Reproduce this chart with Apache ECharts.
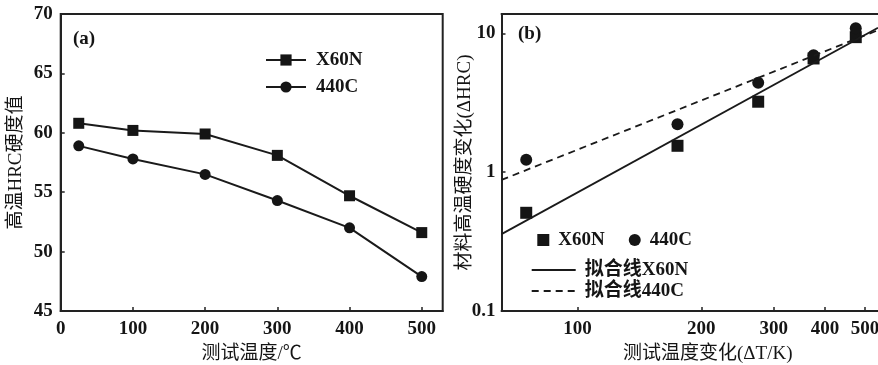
<!DOCTYPE html>
<html>
<head>
<meta charset="utf-8">
<script src="https://cdn.jsdelivr.net/npm/echarts@6/dist/echarts.min.js"></script>
<style>html,body{margin:0;padding:0;background:#fff}#c{width:878px;height:365px}</style>
</head>
<body>
<div id="c"></div>
<script>
// ---- Panel (a) data ----
const tempC = [25, 100, 200, 300, 400, 500];
const hrcX60N = [60.8, 60.2, 59.9, 58.1, 54.7, 51.6];
const hrc440C = [58.9, 57.8, 56.5, 54.3, 52.0, 47.9];
const tempTicks = [0, 100, 200, 300, 400, 500];
const hrcTicks = [45, 50, 55, 60, 65, 70];

// ---- Panel (b) data ----
const deltaT = [75, 175, 275, 375, 475];
const dHrcX60N = [0.51, 1.55, 3.22, 6.6, 9.4];
const dHrc440C = [1.23, 2.22, 4.41, 6.95, 10.9];
const fitX = [65.3, 538];
const fitX60N = [0.358, 11.0];
const fit440C = [0.88, 10.55];
const dTTicks = [100, 200, 300, 400, 500];
const dHrcTicks = [0.1, 1, 10];

const pair = (xs, ys) => xs.map((x, i) => [x, ys[i]]);
const FONT = '"Liberation Serif", "Noto Sans CJK SC", serif';
const INK = '#151515';

const chart = echarts.init(document.getElementById('c'), null, {renderer: 'canvas'});
const lab = {fontFamily: FONT, fontSize: 19, fontWeight: 'bold', color: INK};
const nameStyle = {fontFamily: FONT, fontSize: 19, color: INK};
const axLine = {show: true, lineStyle: {color: '#222', width: 2}};
const legText = {fontFamily: FONT, fontSize: 19, fontWeight: 'bold', color: INK, lineHeight: 20};

chart.setOption({
  animation: false,
  backgroundColor: '#fff',
  title: [
    {text: '(a)', left: 73, top: 30, padding: 0, textStyle: {fontFamily: FONT, fontSize: 19, fontWeight: 'bold', color: INK}},
    {text: '(b)', left: 518, top: 25, padding: 0, textStyle: {fontFamily: FONT, fontSize: 19, fontWeight: 'bold', color: INK}}
  ],
  grid: [
    {left: 60.7, top: 14, right: 435.3, bottom: 54, show: true, borderColor: '#222', borderWidth: 2,
     containLabel: false, outerBoundsMode: 'none'},
    {left: 501.5, top: 14, right: 0, bottom: 54, show: false,
     containLabel: false, outerBoundsMode: 'none'}
  ],
  legend: [
    {
      left: 265, top: 50, padding: 0, orient: 'vertical', itemWidth: 40, itemHeight: 14, itemGap: 7,
      data: ['X60N', '440C'],
      textStyle: Object.assign({padding: [0, 0, 0, 5]}, legText)
    },
    {
      left: 537.3, top: 230, padding: 0, orient: 'horizontal', itemWidth: 12, itemHeight: 12, itemGap: 24,
      data: [{name: 'X60N', icon: 'rect'}, {name: '440C', icon: 'circle'}],
      textStyle: Object.assign({padding: [0, 0, 0, 4]}, legText)
    },
    {
      left: 530.7, top: 260, padding: 0, orient: 'vertical', itemWidth: 44, itemHeight: 12, itemGap: 1,
      data: [{name: '拟合线X60N', itemStyle: {opacity: 0}}, {name: '拟合线440C', itemStyle: {opacity: 0}}],
      textStyle: Object.assign({padding: [0, 0, 0, 4]}, legText)
    }
  ],
  xAxis: [
    {
      gridIndex: 0, type: 'value', min: 0, max: 529, interval: 100,
      name: '测试温度/℃', nameLocation: 'middle', nameGap: 34, nameMoveOverlap: false, nameTextStyle: nameStyle,
      axisLine: axLine,
      axisTick: {inside: true, length: 4, lineStyle: {color: '#222', width: 1.5}, customValues: [100, 200, 300, 400, 500]},
      axisLabel: Object.assign({margin: 9, customValues: tempTicks}, lab),
      splitLine: {show: false}
    },
    {
      gridIndex: 1, type: 'log', min: fitX[0], max: fitX[1],
      name: '测试温度变化(ΔT/K)', nameLocation: 'middle', nameGap: 34, nameMoveOverlap: false,
      nameTextStyle: Object.assign({padding: [0, 0, 0, 36]}, nameStyle),
      axisLine: axLine,
      axisTick: {inside: true, length: 4, lineStyle: {color: '#222', width: 1.5}, customValues: dTTicks},
      axisLabel: Object.assign({margin: 9, customValues: dTTicks}, lab),
      splitLine: {show: false}, minorTick: {show: false}
    },
    {
      gridIndex: 1, type: 'value', position: 'top', min: 0, max: 1,
      axisLine: axLine, axisTick: {show: false}, axisLabel: {show: false}, splitLine: {show: false}
    }
  ],
  yAxis: [
    {
      gridIndex: 0, type: 'value', min: 45, max: 70, interval: 5,
      name: '高温HRC硬度值', nameLocation: 'middle', nameGap: 35, nameMoveOverlap: false, nameTextStyle: nameStyle,
      axisLine: axLine,
      axisTick: {inside: true, length: 4, lineStyle: {color: '#222', width: 1.5}, customValues: [50, 55, 60, 65]},
      axisLabel: Object.assign({margin: 8, customValues: hrcTicks}, lab),
      splitLine: {show: false}
    },
    {
      gridIndex: 1, type: 'log', min: 0.1, max: 13.8,
      name: '材料高温硬度变化(ΔHRC)', nameLocation: 'middle', nameGap: 27, nameMoveOverlap: false, nameTextStyle: nameStyle,
      axisLine: axLine,
      axisTick: {inside: true, length: 4, lineStyle: {color: '#222', width: 1.5}, customValues: [1, 10]},
      axisLabel: Object.assign({margin: 6, customValues: dHrcTicks}, lab),
      splitLine: {show: false}, minorTick: {show: false}
    }
  ],
  series: [
    {
      name: 'X60N', type: 'line', xAxisIndex: 0, yAxisIndex: 0,
      data: pair(tempC, hrcX60N), symbol: 'rect', symbolSize: 11,
      itemStyle: {color: INK}, lineStyle: {color: '#1a1a1a', width: 2}
    },
    {
      name: '440C', type: 'line', xAxisIndex: 0, yAxisIndex: 0,
      data: pair(tempC, hrc440C), symbol: 'circle', symbolSize: 11,
      itemStyle: {color: INK}, lineStyle: {color: '#1a1a1a', width: 2}
    },
    {
      name: '拟合线X60N', type: 'line', xAxisIndex: 1, yAxisIndex: 1,
      data: pair(fitX, fitX60N), symbol: 'none',
      itemStyle: {color: INK}, lineStyle: {color: '#1a1a1a', width: 1.8, type: 'solid'}
    },
    {
      name: '拟合线440C', type: 'line', xAxisIndex: 1, yAxisIndex: 1,
      data: pair(fitX, fit440C), symbol: 'none',
      itemStyle: {color: INK}, lineStyle: {color: '#1a1a1a', width: 1.8, type: [7, 5]}
    },
    {
      name: 'X60N', type: 'scatter', xAxisIndex: 1, yAxisIndex: 1,
      data: pair(deltaT, dHrcX60N), symbol: 'rect', symbolSize: 12,
      itemStyle: {color: INK, opacity: 1}
    },
    {
      name: '440C', type: 'scatter', xAxisIndex: 1, yAxisIndex: 1,
      data: pair(deltaT, dHrc440C), symbol: 'circle', symbolSize: 12,
      itemStyle: {color: INK, opacity: 1}
    }
  ]
});
</script>
</body>
</html>
